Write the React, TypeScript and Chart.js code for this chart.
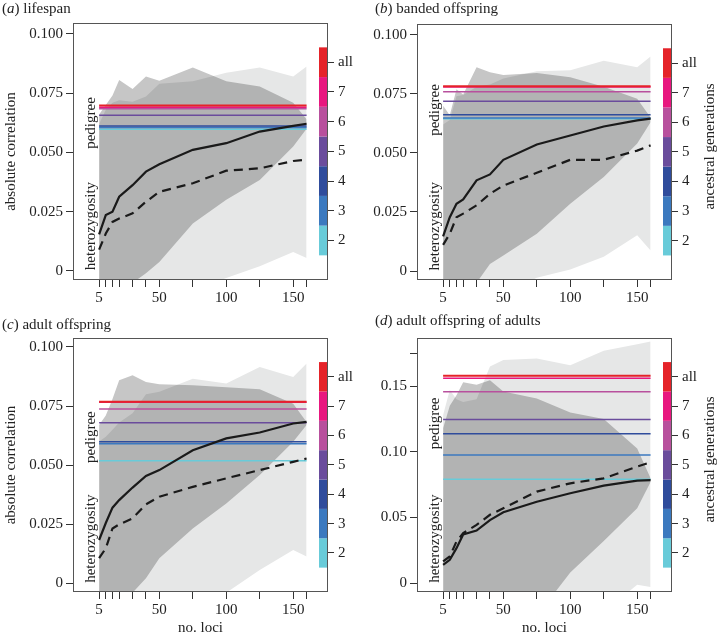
import React, { useEffect, useRef } from 'react';
import { Chart, registerables } from 'chart.js';

Chart.register(...registerables);

const FONT = '"Liberation Serif", "Times New Roman", serif';
const TEXT = '#222';

// number of loci sampled
const LOCI = [5, 10, 15, 20, 30, 40, 50, 75, 100, 125, 150, 160];
const X_LABELED = [5, 50, 100, 150];

// ancestral generations used for the pedigree lines and the colour key
const GENERATIONS = ['2', '3', '4', '5', '6', '7', 'all'];
const GEN_COLORS = ['#68cbd9', '#3b79bf', '#2f4c9c', '#6a4c9c', '#b8509d', '#e8177f', '#e52329'];

const Y_TICKS_SMALL = [0, 0.025, 0.05, 0.075, 0.1];
const Y_LABELS_SMALL = ['0', '0.025', '0.050', '0.075', '0.100'];
const Y_TICKS_LARGE = [0, 0.05, 0.1, 0.15, 0.175];
const Y_LABELS_LARGE = ['0', '0.05', '0.10', '0.15', ''];

// (a) lifespan
const A_SOLID = [0.0154, 0.0236, 0.025, 0.0313, 0.0362, 0.0419, 0.045, 0.0511, 0.0539, 0.0588, 0.0612, 0.0621];
const A_DASHED = [0.009, 0.0158, 0.0207, 0.0221, 0.0243, 0.0292, 0.0334, 0.037, 0.0423, 0.0433, 0.0464, 0.047];
const A_SHADE_HI = [0.066, 0.07, 0.074, 0.0806, 0.0768, 0.082, 0.0802, 0.0858, 0.08, 0.0778, 0.071, 0.064];
const A_SHADE_LO = [-0.02, -0.02, -0.02, -0.02, -0.005, -0.001, 0.0038, 0.02, 0.03, 0.0384, 0.0525, 0.06];
const A_LIGHT_HI = [0.062, 0.068, 0.071, 0.072, 0.0714, 0.0736, 0.079, 0.08, 0.0836, 0.0858, 0.082, 0.0863];
const A_LIGHT_LO = [-0.03, -0.03, -0.03, -0.03, -0.03, -0.03, -0.02, -0.008, -0.003, 0.002, 0.008, 0.0055];
const A_PEDIGREE = [0.0598, 0.0605, 0.0612, 0.0657, 0.0684, 0.0691, 0.0698];

// (b) banded offspring
const B_SOLID = [0.0147, 0.0228, 0.0285, 0.0303, 0.0384, 0.0409, 0.0471, 0.0536, 0.0574, 0.0612, 0.0638, 0.0645];
const B_DASHED = [0.0111, 0.0158, 0.0228, 0.0243, 0.0278, 0.0327, 0.0362, 0.0416, 0.0471, 0.0471, 0.051, 0.0532];
const B_SHADE_HI = [0.07, 0.066, 0.077, 0.0748, 0.0863, 0.0842, 0.083, 0.0838, 0.082, 0.078, 0.073, 0.065];
const B_SHADE_LO = [-0.02, -0.02, -0.02, -0.02, -0.005, 0.003, 0.0066, 0.0158, 0.0285, 0.0398, 0.054, 0.063];
const B_LIGHT_HI = [0.062, 0.064, 0.074, 0.0745, 0.078, 0.079, 0.0815, 0.0846, 0.085, 0.089, 0.0863, 0.0908];
const B_LIGHT_LO = [-0.03, -0.03, -0.03, -0.03, -0.03, -0.03, -0.01, -0.0028, 0.0006, 0.006, 0.0151, 0.0087];
const B_PEDIGREE = [0.0645, 0.0648, 0.0662, 0.0719, 0.0759, 0.0779, 0.0782];

// (c) adult offspring
const C_SOLID = [0.0183, 0.0255, 0.032, 0.0352, 0.0405, 0.0454, 0.0479, 0.0563, 0.0613, 0.0638, 0.0676, 0.0683];
const C_DASHED = [0.0106, 0.0148, 0.0232, 0.0249, 0.0275, 0.0334, 0.0366, 0.0408, 0.0444, 0.0479, 0.0514, 0.0528];
const C_SHADE_HI = [0.067, 0.071, 0.078, 0.0859, 0.088, 0.0852, 0.0842, 0.0838, 0.083, 0.0821, 0.076, 0.0683];
const C_SHADE_LO = [-0.02, -0.02, -0.02, -0.02, -0.004, 0.0021, 0.0106, 0.0232, 0.0338, 0.0458, 0.0599, 0.067];
const C_LIGHT_HI = [0.06, 0.062, 0.065, 0.068, 0.072, 0.08, 0.081, 0.0866, 0.0845, 0.0915, 0.0873, 0.093];
const C_LIGHT_LO = [-0.03, -0.03, -0.03, -0.03, -0.03, -0.03, -0.02, -0.012, -0.004, 0.0056, 0.0141, 0.0113];
const C_PEDIGREE = [0.0518, 0.059, 0.0599, 0.0679, 0.0737, 0.0766, 0.0768];

// (d) adult offspring of adults
const D_SOLID = [0.0139, 0.0177, 0.0266, 0.037, 0.04, 0.048, 0.054, 0.062, 0.0684, 0.0742, 0.078, 0.0785];
const D_DASHED = [0.0165, 0.0203, 0.0317, 0.038, 0.0443, 0.052, 0.057, 0.0697, 0.076, 0.0798, 0.0887, 0.092];
const D_SHADE_HI = [0.118, 0.135, 0.143, 0.153, 0.151, 0.1545, 0.146, 0.1406, 0.13, 0.125, 0.1026, 0.0798];
const D_SHADE_LO = [-0.03, -0.03, -0.03, -0.03, -0.03, -0.03, -0.03, -0.025, 0.008, 0.032, 0.057, 0.077];
const D_LIGHT_HI = [0.128, 0.147, 0.14, 0.138, 0.14, 0.165, 0.17, 0.171, 0.166, 0.177, 0.182, 0.184];
const D_LIGHT_LO = [-0.05, -0.05, -0.05, -0.05, -0.05, -0.05, -0.05, -0.05, -0.05, -0.022, -0.0013, -0.003];
const D_PEDIGREE = [0.079, 0.0975, 0.1138, 0.1247, 0.1457, 0.156, 0.158];

type PanelSpec = {
  letter: string; title: string;
  left: number; top: number; width: number; height: number;
  titleLeft: number; titleTop: number;
  yMin: number; yMax: number; yTicks: number[]; yLabels: string[];
  solid: number[]; dashed: number[];
  shadeHi: number[]; shadeLo: number[]; lightHi: number[]; lightLo: number[];
  pedigree: number[];
  leftW: number; rightW: number; padTop: number; xAxisH: number;
  yTitle: boolean; rTitle: boolean; xTitle: boolean; pedFrac: number;
};

const PANELS: PanelSpec[] = [
  { letter: 'a', title: 'lifespan', left: 0, top: 0, width: 358, height: 315, titleLeft: 2, titleTop: 0,
    yMin: -0.0038, yMax: 0.1046, yTicks: Y_TICKS_SMALL, yLabels: Y_LABELS_SMALL,
    solid: A_SOLID, dashed: A_DASHED, shadeHi: A_SHADE_HI, shadeLo: A_SHADE_LO, lightHi: A_LIGHT_HI, lightLo: A_LIGHT_LO,
    pedigree: A_PEDIGREE, leftW: 73, rightW: 30, padTop: 23, xAxisH: 35, yTitle: true, rTitle: false, xTitle: false, pedFrac: 0.389 },
  { letter: 'b', title: 'banded offspring', left: 358, top: 0, width: 359, height: 315, titleLeft: 375, titleTop: 0,
    yMin: -0.0038, yMax: 0.1046, yTicks: Y_TICKS_SMALL, yLabels: Y_LABELS_SMALL,
    solid: B_SOLID, dashed: B_DASHED, shadeHi: B_SHADE_HI, shadeLo: B_SHADE_LO, lightHi: B_LIGHT_HI, lightLo: B_LIGHT_LO,
    pedigree: B_PEDIGREE, leftW: 59, rightW: 45, padTop: 24, xAxisH: 35, yTitle: false, rTitle: true, xTitle: false, pedFrac: 0.336 },
  { letter: 'c', title: 'adult offspring', left: 0, top: 315, width: 358, height: 322, titleLeft: 2, titleTop: 316,
    yMin: -0.0037, yMax: 0.1038, yTicks: Y_TICKS_SMALL, yLabels: Y_LABELS_SMALL,
    solid: C_SOLID, dashed: C_DASHED, shadeHi: C_SHADE_HI, shadeLo: C_SHADE_LO, lightHi: C_LIGHT_HI, lightLo: C_LIGHT_LO,
    pedigree: C_PEDIGREE, leftW: 73, rightW: 30, padTop: 23, xAxisH: 45, yTitle: true, rTitle: false, xTitle: true, pedFrac: 0.39 },
  { letter: 'd', title: 'adult offspring of adults', left: 358, top: 315, width: 359, height: 322, titleLeft: 375, titleTop: 312,
    yMin: -0.0068, yMax: 0.1867, yTicks: Y_TICKS_LARGE, yLabels: Y_LABELS_LARGE,
    solid: D_SOLID, dashed: D_DASHED, shadeHi: D_SHADE_HI, shadeLo: D_SHADE_LO, lightHi: D_LIGHT_HI, lightLo: D_LIGHT_LO,
    pedigree: D_PEDIGREE, leftW: 59, rightW: 45, padTop: 23, xAxisH: 45, yTitle: false, rTitle: true, xTitle: true, pedFrac: 0.336 },
];

function drawRotated(ctx: CanvasRenderingContext2D, text: string, x: number, y: number) {
  ctx.save();
  ctx.translate(x, y);
  ctx.rotate(-Math.PI / 2);
  ctx.font = `15px ${FONT}`;
  ctx.fillStyle = TEXT;
  ctx.textAlign = 'center';
  ctx.textBaseline = 'middle';
  ctx.fillText(text, 0, 0);
  ctx.restore();
}

function Panel({ p }: { p: PanelSpec }) {
  const ref = useRef<HTMLCanvasElement>(null);
  useEffect(() => {
    if (!ref.current) return;
    const pts = (arr: number[]) => LOCI.map((x, i) => ({ x, y: arr[i] }));
    const datasets: any[] = [];
    const addBand = (hi: number[], lo: number[], color: string, order: number) => {
      datasets.push({ data: pts(hi), borderWidth: 0, borderColor: 'rgba(0,0,0,0)', backgroundColor: color,
        pointRadius: 0, fill: '+1', order, band: true, tension: 0 });
      datasets.push({ data: pts(lo), borderWidth: 0, borderColor: 'rgba(0,0,0,0)', backgroundColor: color,
        pointRadius: 0, fill: false, order, band: true, tension: 0 });
    };
    addBand(p.lightHi, p.lightLo, '#e6e7e7', 101);
    addBand(p.shadeHi, p.shadeLo, '#c6c6c6', 100);
    p.pedigree.forEach((v, g) => {
      datasets.push({ data: [{ x: LOCI[0], y: v }, { x: LOCI[LOCI.length - 1], y: v }],
        borderColor: GEN_COLORS[g], borderWidth: g === GENERATIONS.length - 1 ? 2 : 1.5,
        pointRadius: 0, fill: false, order: 2 + (GENERATIONS.length - 1 - g) });
    });
    datasets.push({ data: pts(p.dashed), borderColor: '#1a1a1a', borderWidth: 2.2, borderDash: [9, 6],
      pointRadius: 0, fill: false, order: 1, tension: 0 });
    datasets.push({ data: pts(p.solid), borderColor: '#1a1a1a', borderWidth: 2.2,
      pointRadius: 0, fill: false, order: 0, tension: 0 });

    const deco = {
      id: 'deco',
      beforeDatasetsDraw(chart: any) { chart.ctx.globalCompositeOperation = 'multiply'; },
      beforeDatasetDraw(chart: any, args: any) {
        if (!chart.data.datasets[args.index].band) chart.ctx.globalCompositeOperation = 'source-over';
      },
      afterDatasetsDraw(chart: any) {
        const ctx = chart.ctx as CanvasRenderingContext2D;
        ctx.globalCompositeOperation = 'source-over';
        const { left, right, top, bottom } = chart.chartArea;
        const y2 = chart.scales.y2;
        GEN_COLORS.forEach((c, i) => {
          const yt = y2.getPixelForValue(i + 1.5);
          const yb = y2.getPixelForValue(i + 0.5);
          ctx.fillStyle = c;
          ctx.fillRect(right - 9, yt, 9, yb - yt);
        });
        ctx.save();
        ctx.strokeStyle = '#555';
        ctx.lineWidth = 1;
        ctx.strokeRect(left + 0.5, top + 0.5, right - left - 1, bottom - top - 1);
        ctx.restore();
        const px = chart.scales.x.getPixelForValue(LOCI[0]) - 8;
        drawRotated(ctx, 'pedigree', px, top + p.pedFrac * (bottom - top));
        drawRotated(ctx, 'heterozygosity', px, top + 0.79 * (bottom - top));
        if (p.rTitle) drawRotated(ctx, 'ancestral generations', right + 38.5, (top + bottom) / 2 - 5.5);
      },
    };

    const tickFont = { family: FONT, size: 15 };
    const chart = new Chart(ref.current, {
      type: 'line',
      data: { datasets },
      options: {
        animation: false,
        responsive: false,
        devicePixelRatio: 1,
        layout: { padding: { top: p.padTop, left: 0, right: 0, bottom: 0 } },
        plugins: { legend: { display: false }, tooltip: { enabled: false }, title: { display: false } },
        scales: {
          x: {
            type: 'linear', min: -14.5, max: 176,
            afterBuildTicks: (s: any) => { s.ticks = LOCI.map((v) => ({ value: v })); },
            afterFit: (s: any) => { s.height = p.xAxisH; },
            ticks: { autoSkip: false, maxRotation: 0, minRotation: 0, padding: 2, color: TEXT, font: tickFont,
              callback: (v: any) => (X_LABELED.includes(v) ? String(v) : '') },
            grid: { drawOnChartArea: false, drawTicks: true, tickLength: 7, color: '#333' },
            border: { display: false },
            title: { display: p.xTitle, text: 'no. loci', color: TEXT, font: tickFont, padding: { top: 0, bottom: 0 } },
          },
          y: {
            type: 'linear', position: 'left', min: p.yMin, max: p.yMax,
            afterBuildTicks: (s: any) => { s.ticks = p.yTicks.map((v) => ({ value: v })); },
            afterFit: (s: any) => { s.width = p.leftW; },
            ticks: { autoSkip: false, padding: 3, color: TEXT, font: tickFont,
              callback: (_v: any, i: number) => p.yLabels[i] },
            grid: { drawOnChartArea: false, drawTicks: true, tickLength: 7, color: '#333' },
            border: { display: false },
            title: { display: p.yTitle, text: 'absolute correlation', color: TEXT, font: tickFont, padding: { top: 2, bottom: 0 } },
          },
          y2: {
            type: 'linear', position: 'right', min: -0.33, max: 8.32,
            afterBuildTicks: (s: any) => { s.ticks = GENERATIONS.map((_g, i) => ({ value: i + 1 })); },
            afterFit: (s: any) => { s.width = p.rightW; },
            ticks: { autoSkip: false, padding: 4, color: TEXT, font: tickFont,
              callback: (_v: any, i: number) => GENERATIONS[i] },
            grid: { drawOnChartArea: false, drawTicks: true, tickLength: 6, color: '#333' },
            border: { display: false },
          },
        },
      } as any,
      plugins: [deco],
    });
    return () => chart.destroy();
  }, [p]);

  return (
    <canvas ref={ref} width={p.width} height={p.height}
      style={{ position: 'absolute', left: p.left, top: p.top, width: p.width, height: p.height }} />
  );
}

export default function App() {
  return (
    <div style={{ position: 'absolute', left: 0, top: 0, width: 717, height: 637, background: '#fff', overflow: 'hidden' }}>
      {PANELS.map((p) => (
        <React.Fragment key={p.letter}>
          <Panel p={p} />
          <div style={{ position: 'absolute', left: p.titleLeft, top: p.titleTop, height: 16, lineHeight: '16px',
            fontFamily: FONT, fontSize: 15, color: TEXT, whiteSpace: 'nowrap' }}>
            (<i>{p.letter}</i>) {p.title}
          </div>
        </React.Fragment>
      ))}
    </div>
  );
}
